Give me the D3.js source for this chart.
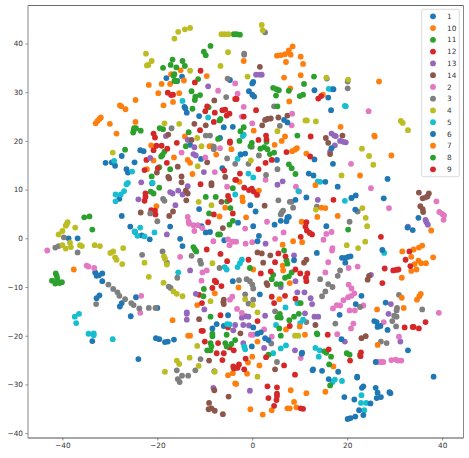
<!DOCTYPE html>
<html>
<head>
<meta charset="utf-8">
<script src="https://cdn.jsdelivr.net/npm/d3@7"></script>
<style>
  html, body { margin: 0; padding: 0; background: #fff; }
  svg { display: block; }
  text { font-family: "DejaVu Sans", sans-serif; }
</style>
</head>
<body>
<div id="chart"></div>
<script>
const labels = ["1", "10", "11", "12", "13", "14", "2", "3", "4", "5", "6", "7", "8", "9"];
const colors = ["#1f77b4", "#ff7f0e", "#2ca02c", "#d62728", "#9467bd", "#8c564b", "#e377c2", "#7f7f7f", "#bcbd22", "#17becf", "#1f77b4", "#ff7f0e", "#2ca02c", "#d62728"];
const xTicks = [-40, -20, 0, 20, 40];
const yTicks = [-40, -30, -20, -10, 0, 10, 20, 30, 40];

const s1 = [[-18.1,32.9],[-15.8,32.3],[-14.8,33.2],[-14.3,27],[-14.1,26.7],[-13.8,25.8],[-11.2,25.1],[-4.7,32.5],[-6,22.8],[-4.1,22.9],[-13.1,19.2],[-6.8,20.6],[-23.6,18.1],[-22.9,17.9],[-27.5,16.9],[-30.9,15.5],[-29.6,15.6],[-28.9,14.9],[-24.8,15.6],[-26.5,14.2],[-26.2,13.5],[-10.8,16.3],[-6.3,14.4],[-28,8.1],[-21.1,11.3],[-11.2,6],[-27.5,4.6],[-25.7,2.4],[-17.3,2.4],[-10.7,2.5],[-38.7,0],[-36.8,0],[-24.7,1.3],[-23.3,0.6],[-21.6,-0.2],[-15.2,-0.1],[-14.7,-1.6],[-9.8,1.2],[-8.9,1.3],[-5.9,-0.4],[-4.1,-8.8],[-33.1,-7],[-32.8,-7.7],[-32.3,-7.6],[-31.6,-7.2],[-31.6,-8.8],[-32.2,-11.7],[-32.8,-12.3],[-27.5,-13.3],[-27.9,-14],[-24.5,-12.1],[-25.6,-16],[-20,-14.3],[-8.4,-18.5],[-7.5,-17.6],[-6,-18],[-5.1,-15.8],[-20.3,-20.5],[-19.6,-20.7],[-18.4,-21.3],[-17.8,-21.2],[-16.5,-20.8],[-33.7,-21.1],[-24,-24.8]];
const s10 = [[-21.8,31.5],[-19.8,29.8],[-19.1,31.7],[-17.3,31.7],[-17.1,33.7],[-15.1,34.5],[-14.4,32.4],[-9.6,33.3],[-15.4,29.8],[-16.7,28],[-18.7,27.3],[-24.6,28.4],[-27.9,27.3],[-27.6,27.1],[-26.7,26.5],[-24.6,23.9],[-30,23.5],[-33,23.6],[-32.6,24.1],[-32.2,24.5],[-31.9,24.8],[-28.6,21.5],[-14.2,20.9],[-21.3,19.1],[-9,18.9],[-8.5,18.9],[-4.4,18.3],[-7.6,17.2],[-16.5,16.6],[-20.8,16],[-13.6,16.1],[-13.1,15.5],[-22.2,14.2],[-12.6,13.2],[-20.2,6.6],[-6.9,4.5],[-5.7,6.3],[-37.6,-6.4],[-16.8,-16.8],[-13.5,-20],[-13.1,-20],[-11.6,-13.7],[-7.9,-11.3],[-5.1,-28.1],[-4.1,-27.7],[-3.6,-29.8]];
const s11 = [[-8.8,39.5],[-10.2,38.3],[-9.8,37.6],[-3.9,41.9],[-3.3,41.9],[-2.6,41.8],[-16.8,36.7],[-17.2,35.6],[-14.7,36.4],[-14.2,35.4],[-16,35.1],[-18.8,35],[-16.4,33.7],[-16.6,33.4],[-16.4,32.3],[-15.9,32.3],[-11.4,32.7],[-12.8,30.2],[-11,29.4],[-12,29.1],[-12.1,28.4],[-12.6,26.6],[-9.2,26.9],[-6.7,24.5],[-6.9,24.2],[-19.5,22.6],[-18.8,22.4],[-24.9,22.6],[-24.5,22.6],[-25,22.1],[-25.1,21.7],[-23.5,22.1],[-13.4,21.8],[-7.2,20.4],[-14,18.9],[-18.5,17.8],[-18.9,17.1],[-19.2,16.8],[-26.8,18.2],[-19.6,14.6],[-17.3,14.2],[-21.2,12.7],[-19.6,10.4],[-21.4,9.6],[-20.8,9.2],[-9.8,8.5],[-7.7,8.5],[-9.1,5.1],[-4.1,10.3],[-5.3,7.6],[-4.6,6.2],[-4.8,2.8],[-4.1,3.6],[-35.4,4.3],[-34.3,4.5],[-33.7,1.8]];
const s12 = [[-10.9,34.4],[-12.1,32],[-17.8,29.9],[-17.1,29.4],[-16.7,29.5],[-9.5,27.1],[-9.9,26.1],[-7.9,25.8],[-8.1,23.9],[-6.3,26.3],[-5.7,26.4],[-5.4,25.2],[-4.8,25.6],[-3.6,28.6],[-11,22.2],[-20.8,21.5],[-20.5,20.7],[-15.9,19.6],[-20.2,19],[-19.1,19],[-20.8,18.1],[-17.9,18.4],[-22.3,16.1],[-18,15.5],[-19.9,14.4],[-22.7,14],[-4.7,19.9],[-4.7,19.6],[-5.9,13.9],[-3.6,12],[-10.9,11.1],[-22.5,9.2],[-22.5,8.5],[-22.7,7.7],[-21.3,5.8],[-20.5,5.7],[-20.4,4.9],[-8.1,4.9],[-9.3,3.3],[-5.1,8.7],[-4.8,7.9],[-4.1,5.1],[-11.2,-11.6],[-10.6,-13.3],[-9.6,-2.3],[-6.7,-3.2],[-5.3,-4.7],[-7.9,-8.7],[-7.6,-9],[-8.4,-10.2],[-6.5,-9.8],[-6.7,-15.8],[-10.7,-19],[-10.4,-19],[-10,-21.2],[-7.2,-21.5],[-7.5,-23.6],[-6,-23.6],[-6.3,-25],[-4.8,-22.4],[-3.9,-23],[-5.1,-18.3],[-4,-26.3],[-3.9,-26.7]];
const s13 = [[-9.3,31.2],[-18.2,21],[-13.6,20.2],[-12.2,18.7],[-12.4,17.3],[-11.9,17],[-21.5,16.5],[-10.2,13.6],[-23.4,11.5],[-13.6,10.7],[-17.3,9.5],[-16.8,9.2],[-15.6,9.8],[-14.7,9],[-24,8],[-16.2,6.8],[0.8,33.6],[2,33.6],[1.6,33.6],[16.7,21.5],[17.3,21.1],[17.6,21],[18.5,20],[19.2,19.8],[19.7,19.7],[17.4,19.1],[16.4,17.8],[5.3,11],[6.4,11.7],[13.8,7.9],[36.5,8.4],[36.5,3.8],[36.7,3.3],[37,2.8],[32.8,2.4],[-18,0.8],[-13.1,-6.6],[-11.9,-11.4],[-10.1,-14.6],[-13.8,-15.2],[-13.8,-15.5],[-13.8,-16.7],[-4,-18.9],[-8.2,-30.7],[2.8,-1.1],[8.8,-3.5],[25,-7.5],[6,-10],[9.1,-8.8],[9.5,-11.1],[11,-11.1],[12.3,-12.3],[12.6,-13.5],[29.2,-13.5],[28.7,-15.5],[-2.2,-16.3],[-1.4,-16],[-0.8,-16.1],[2.7,-15.9],[11.1,-15.4],[13.1,-16.1],[13.9,-16.1],[-3.6,-17.8],[-1.9,-17.8],[-0.7,-17.9],[19.5,-21.2],[31.2,-21.2],[9,-23],[2.5,-22.5],[-1.9,-21.5],[-0.5,-31.3]];
const s14 = [[-8,28.3],[-17.7,21.3],[-12.8,20.2],[-12.2,23.5],[-9.8,23.2],[-15.7,14.7],[-20.1,13.5],[-17.7,12.6],[-17.5,12.3],[-14.9,12.7],[-14.9,11.5],[-9.5,15.6],[-8.6,11.3],[-8.6,10.9],[-5.7,12.6],[-14,9.8],[-13.6,9.2],[-13.9,7.8],[-6.5,7.5],[-23.5,5.3],[-17.5,4.6],[-16.7,5.5],[-6.2,2.1],[1.6,35.2],[5.5,24.8],[7.4,25.2],[3.9,24.6],[3.2,24.5],[2.7,24.3],[2.1,23.2],[15.5,20.6],[16,19.6],[19,21.1],[16.4,17.3],[2.6,6.7],[35.1,9.4],[37.2,9.2],[36.9,8.6],[35.9,8.2],[35.4,6.6],[35.9,6],[36,5.4],[-11.2,-16.6],[-9.1,-25.1],[-8,-31.2],[-9.1,-33.8],[-9.2,-35.1],[-8.6,-34.9],[-7.9,-35.4],[-6.2,-36.1],[-5,-32.5],[-6.1,-13.1],[-6,-13.5],[-6,-12.6],[1.1,-2.9],[2,-3.1],[3.8,-3.5],[2.3,-5],[10.9,-5],[11.4,-4.4],[3,-9.2],[3.2,-9.6],[13.3,-17.8],[-2.5,-19.5],[23,-20.5],[23.9,-20.1],[4.8,-26.9],[24.3,-8.5],[24.6,-7.7]];
const s2 = [[-3.6,31.8],[-7.2,30.3],[-6.8,18.5],[-14.9,17.6],[-9.9,16.6],[-7.9,13.6],[-5.3,10.6],[-13.6,4.4],[-13.4,3.4],[-13.3,3],[-12.4,2.7],[-11.5,2.7],[-10.5,2.1],[-3.1,29.7],[-1.8,27],[-2.2,25],[8.4,25.6],[8.3,23.2],[0,23.6],[2.8,12],[9.2,10.6],[9.9,9.6],[20.8,15.3],[24.5,26.1],[25,10.3],[28.8,6.2],[38.8,7.6],[39.4,5.4],[40,5],[40.4,4.7],[40.3,3.8],[3.1,3.4],[-1.5,2],[-43.2,-2.5],[-34.9,-5.6],[-34.5,-5.8],[-33.3,-6.1],[-23.4,-11.8],[-23.6,-15.3],[-15.2,-3.8],[-12.2,1.5],[-8.2,-0.6],[-10.5,-7],[-9.6,-6.6],[-10.7,-8.7],[-5.1,-0.2],[-4.8,-1.4],[-4.1,-0.7],[-4.7,-12.6],[-4.2,-12],[-1.4,-1.1],[0,-0.8],[-3.4,-0.7],[4.8,-0.1],[6.6,1.2],[15.6,0.9],[16.7,1.3],[15,-0.3],[16.9,-2],[16.8,-2.5],[16,-4.9],[20.3,-6.1],[22.2,-5.8],[15.4,-7],[20.3,-9.5],[20.9,-10.3],[21.5,-11.3],[20.9,-11.8],[20.2,-12.1],[19.2,-12.7],[18.5,-13.8],[17.8,-13.7],[17,-14.4],[20.5,-14.8],[21.6,-14.8],[23.4,-13.8],[-3.2,-14.5],[-2.2,-15.3],[39.3,-15.3],[27.7,-17.2],[21.3,-17.5],[20.8,-18.5],[17.9,-19.7],[-0.3,-19.8],[0.2,-19.8],[4.1,-20.2],[2.5,-18.7],[30.9,-20.2],[10.2,-24.6],[27.1,-25.4],[27.6,-25.4],[29.3,-25],[30.2,-24.9],[30.7,-25.1],[31.4,-25.1],[26.5,-25.4]];
const s3 = [[-5.2,32.8],[-5.5,29],[-17,22.6],[-9.8,21.1],[-8.9,21.1],[-8.1,18.8],[-8.1,18.3],[-5.3,16.4],[-3.6,15.3],[-21.5,5.1],[-20,3.5],[-18.8,8.1],[-18.5,7.7],[2.7,42.3],[-1.7,37.9],[-1.7,37.7],[15.7,32.8],[20.1,32.2],[20.1,30.8],[4.6,27.1],[5.8,23.1],[-0.1,18.8],[1.4,17],[-0.8,15.3],[5.3,14.2],[2.9,13],[5.5,7.8],[7.9,7.5],[8.3,7.5],[8.6,6.3],[6.5,5.7],[6.2,5.3],[6,4.9],[13.6,6.5],[22.2,5.5],[20.5,3.4],[-41.5,-1.9],[-40.8,-1.6],[-39.7,0.2],[-36.8,-2.9],[-23.2,-3.4],[-18.9,-2.7],[-18,-5],[-12.8,-3.6],[-11,-4.6],[-10.8,-5.2],[-15.8,-8.1],[-6.9,-6.1],[-30.3,-9.5],[-29.3,-10.4],[-28.4,-11.1],[-28,-11.8],[-26.8,-12.5],[-25.5,-13.3],[-25,-13.7],[-23.8,-14.4],[-21.8,-14.3],[-20.4,-14.3],[-32.9,-13.5],[-17.6,-9.9],[-17.2,-10.2],[-10.9,-24.8],[-15.9,-27.1],[-12,-27.1],[-8,-27.3],[-15.7,-28.9],[-15.3,-29.5],[-14.8,-28.2],[-13.5,-28.2],[-2.8,-8.6],[-1.2,-8.4],[-0.5,-8.8],[0,-9.5],[0.2,-10.3],[-1.5,-11.5],[-0.8,-13.4],[0.2,-12.6],[4.8,-15],[11.4,-17.2],[14.3,-8.4],[15.4,-10.9],[14.7,-11.9],[16,-9.4],[16.9,-10],[18.5,-6.6],[18,-7.7],[17.5,-17.5],[22.7,-14.1],[27.1,-21.2],[28.3,-21.5],[30.9,-11.6],[30.5,-14.3],[30.4,-14.8],[29.9,-15.9],[30.4,-16.1],[29.5,-17],[30.3,-18.1],[35.8,-14.6],[4,-21.6],[5.2,-25.4]];
const s4 = [[-16.4,41],[-15.6,42.4],[-14.2,42.9],[-13.1,43.2],[-6.5,41.9],[-5.8,41.9],[-5,41.9],[-5.1,38.2],[-6.7,35.4],[-13.1,34.4],[-22.4,37.9],[-22.2,35.5],[-21.9,35.6],[-21.2,36.4],[-18.5,23.6],[-15.4,23.5],[-29.4,17.6],[-11.6,20.6],[-10.7,18.9],[-11.5,14.8],[-11.3,7.5],[-8.6,6.8],[-38.9,3.3],[-39.1,2.9],[-39.3,2.6],[-37.3,2.2],[-40,1.5],[2,43.8],[2.2,42.7],[-1,33.2],[15.6,33],[20.2,32.6],[11.2,24.2],[11.5,24.2],[13.4,24],[5.3,22],[31.3,24.1],[31.7,23.7],[32.8,22.2],[23.1,18.4],[24.6,16.9],[25.5,15.1],[-0.3,16],[18.8,12.9],[13.4,5.9],[23.2,6.2],[23.9,4.2],[24.2,2.5],[-40.8,0.8],[-40,-1.4],[-39.3,-2.1],[-38.4,-0.9],[-38.2,-1.8],[-36.3,-1.4],[-35.9,-1.6],[-33.2,-1.4],[-32.1,-1.6],[-29.9,-3],[-29.3,-2.7],[-28.9,-3.9],[-28.6,-4.4],[-27.4,-5.3],[-27.2,-2],[-22.7,-5],[-21.8,-7.9],[-18.7,-9.1],[-18.6,-3.7],[-18.4,-4.2],[-18,-5.4],[-16.6,-10.9],[-15.9,-11.4],[-14.7,-11.9],[-8.4,-5.1],[-8.8,-12.9],[-11.6,-22.1],[-15.9,-25.1],[-15.4,-25.8],[-13.2,-24.5],[-11.3,-26.2],[-7.9,-27.4],[-18.4,-27.4],[19.9,-1.4],[22.3,-2],[23.8,-0.7],[9,-20],[9.7,-20],[1.1,-28.4],[-1.5,-12.5],[0.1,-13.7],[1.1,-15.2]];
const s5 = [[-14.7,28.2],[-9.3,24.8],[-29.1,15.9],[-25.3,13.7],[-26.5,11.1],[-26.2,11.4],[-28.8,9],[-27.7,9],[-27,9.7],[-28.8,7.6],[-21,11.4],[-23.6,2.2],[-3.6,9],[16.1,30.7],[16.7,30.6],[19.5,27.2],[19.7,27.1],[-1.8,21.3],[-2,21],[-3.1,16.3],[-2.5,17.3],[-0.8,13.3],[0.2,12.5],[13.8,11.7],[14.3,11.6],[19.5,7.7],[20.9,8.3],[9.7,9.7],[-24.8,1.4],[-24.2,0.5],[-22.7,0.4],[-20.6,1.2],[-15.6,-7],[-37.4,-16.1],[-36.5,-15.5],[-37.1,-17.4],[-34.5,-19.6],[-33.4,-19.5],[-33.4,-19.9],[-29.4,-20.7],[-5.8,-5.9],[-5.4,-6.4],[-5.3,-17.6],[-4.8,-17.7],[-2.2,-4.4],[-2.6,-5.1],[-3.1,-5.9],[27.8,-3],[7,-14.2],[9.5,-13.3],[9.8,-13.3],[10.7,-16.7],[10.1,-17.4],[5,-17.8],[-1.7,-22.2],[-1.5,-22.8],[4.4,-23.6],[6,-22.6],[7.1,-22],[13.3,-22.5],[14.2,-23],[14,-24.3],[16.9,-29.5],[17.4,-29],[18.9,-29.3],[23,-32.2],[22.9,-33.8],[24,-33.8],[23.6,-35.3]];
const s6 = [[0.2,32.1],[0,31.8],[-0.7,30.2],[0,29.5],[0.4,29.1],[13.1,30.4],[17.1,30.6],[16,28.9],[16.6,26.3],[6.7,24.3],[7.4,23.8],[16.7,18.5],[13.1,16.2],[5.2,16.1],[-2.4,17.2],[-1.5,17.4],[17,15.3],[11.9,13.3],[12.9,12.9],[15.4,11.6],[28.5,12.2],[18,10.6],[11.4,8.4],[9.1,7.9],[20.9,8.3],[21.8,8.8],[27.7,8.2],[-0.4,6.8],[0.7,5.5],[21.7,5.9],[35,4.2],[7.4,4.3],[7.7,4.4],[7.2,3.5],[6,3.6],[4.7,2.8],[-3,3.2],[0.2,2.5],[15.6,2.5],[32.7,2.2],[33.8,1.7],[1.4,0.5],[1.1,-0.6],[13.6,-3],[18.9,-4],[19.6,-4],[20.2,-3.8],[20.7,-3.7],[19.6,-5],[8.8,-4.5],[27.4,-2.4],[23,-11.8],[21.8,-13.5],[18.4,-15.7],[28.1,-13.2],[1.6,-11.5],[0.2,-18.3],[1.1,-19.6],[1.8,-19.3],[2.7,-20.5],[3.4,-20.9],[-0.1,-22.2],[25.7,-17],[26.2,-17.2],[26.4,-18.2],[27,-18],[28.5,-18.8],[18.8,-20.7],[32.8,-23],[26,-25.4],[10.5,-23.5],[10.4,-23.7],[12.8,-26.9],[12.7,-27.1],[14.7,-27.2],[18.1,-27.4],[22.1,-28.6],[22.1,-28.4],[16.1,-28.9],[38.2,-28.4],[23.4,-30.4],[23.1,-30.7],[26,-30.7],[26.4,-31.7],[26.2,-32.8],[27.1,-32.6],[28.9,-31.6],[29.1,-31.8],[19.4,-32.6],[21.5,-33.1],[24.9,-33.9],[22.5,-35.3],[23.4,-36.3],[21.7,-36.6],[20.7,-36.9],[20.1,-37.1]];
const s7 = [[-1.8,36.4],[5.2,37.5],[6,37.6],[6.9,37.8],[7.7,38.6],[8.5,39.4],[8.1,37.7],[7.1,36.2],[10.2,37.3],[10.7,35.8],[10.2,33.5],[6.7,33],[8,30.8],[7.8,28.1],[14.9,29.5],[26.7,32.2],[0.3,22.1],[6.9,20.9],[6.2,20],[4.7,19.2],[8.4,17.9],[9,18.2],[9.4,18.5],[11.4,17.4],[18.6,22.9],[25.7,21.1],[25.8,20.9],[29.3,17],[22.7,12.9],[13.3,10.9],[1.4,9.8],[-2.7,11.6],[-2.1,8.4],[-2,7.6],[14.6,6.3],[15.4,6.2],[18,4.6],[13.7,4.4],[-1.3,4.3],[10.4,3.4],[37.7,1.6],[6.4,-1.3],[8.6,-0.6],[10.5,-0.8],[6.4,-5.6],[6.5,-6.6],[0.2,-6.4],[-2.9,-10.1],[7.9,-9.2],[5.7,-12.5],[31.5,-12.2],[34.7,-12.6],[35.2,-11.9],[35.5,-11.4],[31.9,-14.3],[26.3,-14.6],[31.6,-2.7],[34,-2.3],[35.1,-1.9],[35.8,-1.5],[33.5,-3.8],[34.2,-5.3],[35,-4.6],[35.6,-5.1],[36.6,-5.1],[38.1,-3.9],[34.6,-6.4],[33.5,-6.7],[31.5,-8.1],[7.1,-18.7],[10,-18.1],[11.1,-19.8],[1.1,-21.2],[26.4,-21.9],[-0.9,-25.5],[0,-24.3],[1.5,-26.1],[-1.1,-27.8],[17.1,-26.3],[-3.4,-29.9],[8.1,-31.2],[11.4,-31.8],[15.4,-31.5],[8.8,-33.6],[-0.4,-35.1],[2.2,-36.2],[4.1,-35.3],[7.4,-34.9],[7.9,-34.9],[9.3,-34.7]];
const s8 = [[13,33.2],[10.9,31.7],[4.4,30.9],[5.1,30.6],[5.6,30.4],[7.7,30.3],[5,29.3],[10.7,29.5],[10,29.2],[5.3,27.1],[-1.8,22.8],[-2.5,22],[9.5,21.1],[-2.7,20],[-0.1,19.6],[-0.4,18.9],[3,19.8],[1.7,18.4],[2.5,18.7],[3.2,18.3],[3.7,17.3],[4.6,17.6],[7.7,15.2],[8.3,14.4],[9.1,13.2],[20.2,1.8],[-41.4,-7.2],[-41.2,-7.7],[-41.1,-8.3],[-42.2,-8.7],[-41.5,-9.3],[-40.6,-9.2],[-40.1,-9],[-12.4,-1.8],[-12.1,-2.3],[-11.8,-2.7],[-7.2,0.8],[-6.8,0.8],[-10.2,-10.4],[-10.3,-11.9],[-8.8,-16.1],[-8.4,-19.6],[-8.4,-20.1],[-5.4,-19.8],[-8.8,-21.5],[-8.6,-22.2],[-8.8,-23],[-9.5,-23],[-5.7,-21.5],[-5.4,-22.2],[-4.4,-21.7],[-3.6,-20.9],[6.7,-2.5],[7.2,-4.5],[7.4,-5.2],[-0.5,-6.1],[4.4,-7.5],[4.1,-8.4],[6.9,-8.1],[7.7,-7.8],[8.3,-7],[5.1,-9.4],[6,-9.4],[10.2,-13.3],[9.8,-15.5],[8.8,-16.1],[7.8,-16.8],[5.8,-15.5],[5.3,-16.2],[6,-16.3],[5.7,-18.5],[6,-20],[13.6,-19.5],[13.7,-19.7],[3.4,-23.9],[15.2,-23.2],[15.6,-23.5],[16.6,-24.3],[19.9,-23.6],[20.5,-23.9],[22.7,-23.9],[16.2,-25.9],[16.4,-30.2]];
const s9 = [[-3.3,28.6],[13.9,28.7],[14.5,29.2],[0.8,26.3],[-1.8,25],[2.9,21.1],[3,20.3],[1.3,20.2],[12.3,20.9],[7.2,17.7],[12.2,16.8],[2.8,15.5],[4.1,16.1],[1.3,14.2],[-2.6,13.3],[-3.4,12],[-1.7,10.4],[-0.7,9.9],[-0.1,10.2],[0.3,9.6],[1,8.9],[17.1,7.9],[11.4,3.3],[11.2,2.4],[11.5,1.6],[12.1,1.1],[12.6,0.8],[10.2,0.3],[5.5,-3.1],[7,-3.7],[-0.8,-4.4],[4.8,-4.9],[3.9,-6.8],[1.8,-7.2],[9.1,-6.4],[10.1,-7.2],[11.6,-7.2],[11.3,-8.1],[11.4,-8.8],[27.1,0.3],[32.3,-4.4],[33.1,-2.7],[33.3,-5.7],[29.7,-6.6],[30.3,-6.5],[30.8,-6.4],[27.9,-6.2],[27.4,-9.2],[4.1,-12],[6.9,-11.8],[4.6,-13.3],[9.1,-12.4],[1.1,-17],[7.9,-18],[15.9,-19.8],[32.1,-18.3],[33.8,-18.2],[34,-18.2],[35.1,-18.5],[36.5,-17.2],[16.1,-22.8],[-1.4,-24.7],[2.9,-24.4],[22.9,-23.4],[22.8,-24.2],[20.6,-25.1],[6.7,-26.1],[9,-28],[-3.6,-26.6],[-2.8,-25.9],[-3.1,-26.6],[-1.7,-26.9],[3.2,-30.4],[5.2,-30.6],[5.2,-31.9],[5.2,-32.4],[5.1,-33.2],[3.4,-32.8],[4.6,-34.4],[10.2,-34.9],[10.7,-35]];
const series = [s1, s10, s11, s12, s13, s14, s2, s3, s4, s5, s6, s7, s8, s9];

const WIDTH = 469, HEIGHT = 458;
const LEFT = 28, RIGHT = 463.5, TOP = 5.5, BOTTOM = 438;

const svg = d3.select("#chart").append("svg").attr("width", WIDTH).attr("height", HEIGHT);

const x_scale = d3.scaleLinear().domain([-47.25, 44.5]).range([LEFT, RIGHT]);
const y_scale = d3.scaleLinear().domain([-41, 47.8]).range([BOTTOM, TOP]);

// points, one group per label in legend order
series.forEach((pts, i) => {
    svg.append("g").selectAll("circle").data(pts).enter().append("circle")
        .attr("cx", d => x_scale(d[0]))
        .attr("cy", d => y_scale(d[1]))
        .attr("r", 2.9)
        .attr("fill", colors[i]);
});

const fmt = d => d < 0 ? "\u2212" + Math.abs(d) : "" + d;
const gen_x = d3.axisBottom(x_scale).tickValues(xTicks).tickFormat(fmt).tickSize(2.5).tickPadding(2.5);
const gen_y = d3.axisLeft(y_scale).tickValues(yTicks).tickFormat(fmt).tickSize(2.5).tickPadding(2.5);
const ax = svg.append("g").attr("transform", "translate(0," + BOTTOM + ")").call(gen_x);
const ay = svg.append("g").attr("transform", "translate(" + LEFT + ",0)").call(gen_y);
[ax, ay].forEach(a => {
    a.select(".domain").remove();
    a.selectAll("text").attr("font-size", 7.3).attr("fill", "#333").style("font-family", "'DejaVu Sans'");
    a.selectAll("line").attr("stroke", "#444").attr("stroke-width", 0.6);
});

// frame
svg.append("line").attr("x1", LEFT).attr("x2", RIGHT).attr("y1", TOP).attr("y2", TOP).attr("stroke", "#444").attr("stroke-width", 0.8);
svg.append("line").attr("x1", LEFT).attr("x2", RIGHT).attr("y1", BOTTOM).attr("y2", BOTTOM).attr("stroke", "#222").attr("stroke-width", 0.8);
svg.append("line").attr("x1", LEFT).attr("x2", LEFT).attr("y1", TOP).attr("y2", BOTTOM).attr("stroke", "#888").attr("stroke-width", 1);
svg.append("line").attr("x1", RIGHT).attr("x2", RIGHT).attr("y1", TOP).attr("y2", BOTTOM).attr("stroke", "#888").attr("stroke-width", 1);

// legend
const legend = svg.append("g").attr("transform", "translate(421.7,9.3)");
legend.append("rect").attr("width", 37.6).attr("height", 167.4).attr("rx", 1.5)
    .attr("fill", "#fff").attr("fill-opacity", 0.8).attr("stroke", "#ccc").attr("stroke-width", 0.7);
labels.forEach((category, i) => {
    const row = legend.append("g").attr("transform", "translate(0," + (7 + i * 11.77) + ")");
    row.append("circle").attr("cx", 11.3).attr("r", 2.9).attr("fill", colors[i]);
    row.append("text").attr("x", 25.3).attr("y", 2.6).attr("font-size", 7.3).attr("fill", "#333").text(category);
});
</script>
</body>
</html>
